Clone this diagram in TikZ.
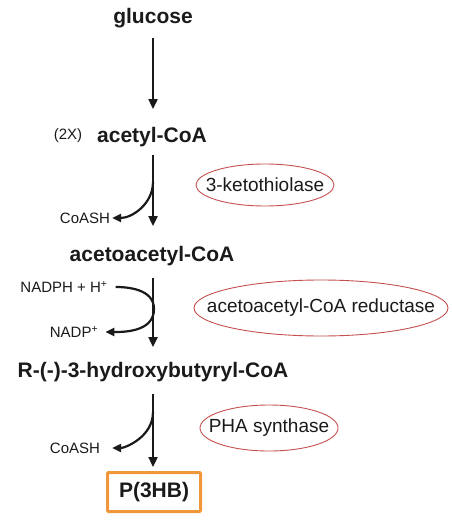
\documentclass[tikz,border=0pt]{standalone}
\usepackage{fontspec}
\setmainfont{Liberation Sans}
\usetikzlibrary{arrows.meta,positioning}
\definecolor{enzymered}{HTML}{C4504F}
\definecolor{boxorange}{HTML}{F0973B}
\definecolor{ink}{HTML}{1A1A1A}

\begin{document}
\begin{tikzpicture}[x=1pt,y=-1pt,
    compound/.style={font=\fontsize{21}{24}\selectfont\bfseries, text=ink, inner sep=0pt},
    side/.style={font=\fontsize{15}{18}\selectfont, text=ink, inner sep=0pt},
    enzyme/.style={text=ink, font=\fontsize{19}{22}\selectfont, inner sep=0pt},
    ring/.style={draw=enzymered, line width=0.9pt},
    react/.style={draw=ink, line width=2.3pt, -{Triangle[length=10pt,width=9pt]}},
    branch/.style={draw=ink, line width=2.2pt, -{Triangle[length=9pt,width=8pt]}}
  ]
    \useasboundingbox (0,0) rectangle (451,526);

    % Compounds
    \node[compound] (glucose) at (153,18) {glucose};
    \node[compound] (acetyl) at (152,137) {acetyl-CoA};
    \node[side] (twox) at (68,136) {(2X)};
    \node[compound] (acetoacetyl) at (152,256) {acetoacetyl-CoA};
    \node[compound] (hydroxy) at (153,372) {R-(-)-3-hydroxybutyryl-CoA};
    \node[compound, draw=boxorange, line width=3pt, rounded corners=1pt,
        minimum width=93pt, minimum height=39pt] (phb) at (154,492) {P(3HB)};

    % Side products and cofactors
    \node[side] (coash1) at (85,218) {CoASH};
    \node[side] (nadph) at (64,287) {NADPH + H\textsuperscript{+}};
    \node[side] (nadp) at (74,332) {NADP\textsuperscript{+}};
    \node[side] (coash2) at (75,448) {CoASH};

    % Enzymes
    \node[enzyme] (thiolase) at (265,185) {3-ketothiolase};
    \node[enzyme] (reductase) at (321,308) {acetoacetyl-CoA reductase};
    \node[enzyme] (synthase) at (269,428) {PHA synthase};
    \draw[ring] (thiolase) ellipse [x radius=69, y radius=21];
    \draw[ring] (reductase) ellipse [x radius=127, y radius=28];
    \draw[ring] (synthase) ellipse [x radius=69, y radius=23];

    % Main pathway
    \draw[react, shorten <=10pt, shorten >=18pt] (glucose.south) -- (glucose.south |- acetyl.north);
    \draw[react, shorten <=8pt, shorten >=20pt] (acetyl.south -| glucose.south) -- (glucose.south |- acetoacetyl.north);
    \draw[react, shorten <=12pt, shorten >=15pt] (acetoacetyl.south -| glucose.south) -- (glucose.south |- hydroxy.north);
    \draw[react, shorten <=12pt, shorten >=4pt] (hydroxy.south -| glucose.south) -- (glucose.south |- phb.north);

    % Branches
    \coordinate (k1) at (153,182);
    \coordinate (k2) at (154,309);
    \coordinate (k3) at (153,412);
    \draw[branch, shorten >=2pt] (k1) to[out=-90,in=0] (coash1.east);
    \draw[branch, shorten <=8pt, shorten >=7pt] (nadph.east) to[out=0,in=90] (k2) to[out=-90,in=0] (nadp.east);
    \draw[branch, shorten >=12pt] (k3) to[out=-90,in=0] (coash2.east);
\end{tikzpicture}
\end{document}
